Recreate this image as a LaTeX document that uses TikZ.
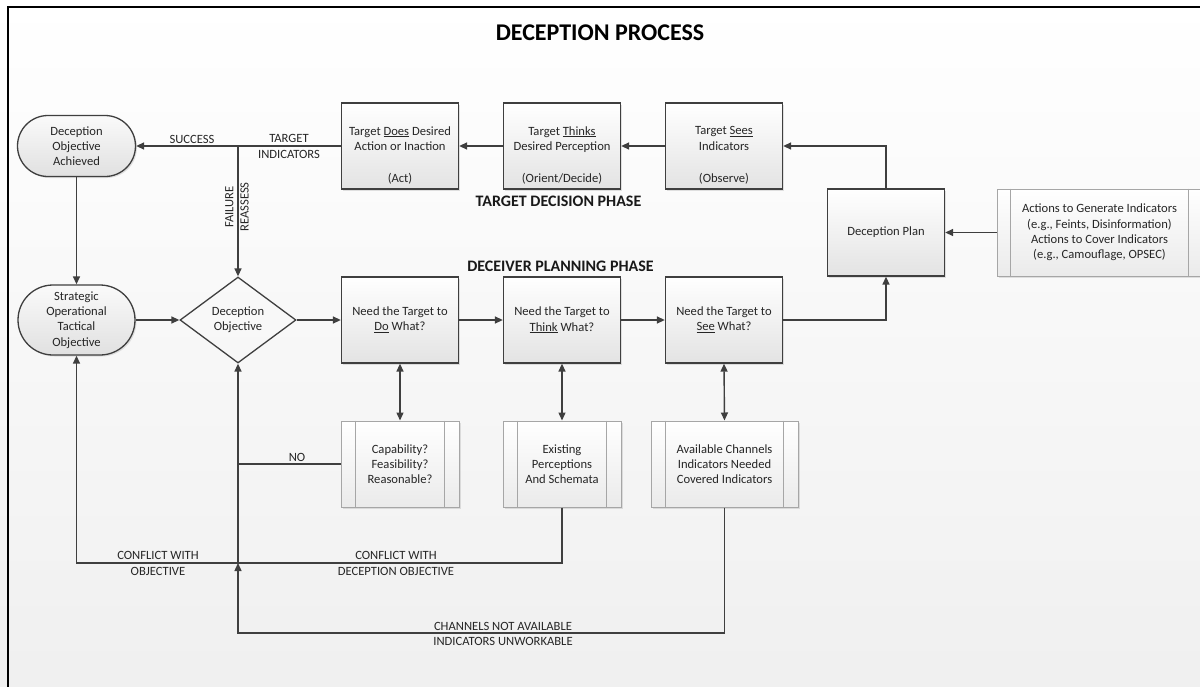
\documentclass[tikz,border=0pt]{standalone}
\usepackage{fontspec}
\setmainfont{Carlito}
\usetikzlibrary{arrows.meta,shapes.geometric,shadows}

\definecolor{ink}{HTML}{262626}
\definecolor{edge}{HTML}{3F3F3F}
\definecolor{pale}{HTML}{A6A6A6}

\begin{document}
\begin{tikzpicture}[x=1pt,y=-1pt,
  every node/.style={text=ink, font=\fontsize{12.6}{15.3}\selectfont},
  softshadow/.style={drop shadow={shadow xshift=1.5pt, shadow yshift=-1.5pt, opacity=0.22}},
  stepbox/.style={draw=edge, line width=1.3pt, top color=white, bottom color=black!11,
    minimum width=117pt, minimum height=86pt, inner sep=0pt, align=center, softshadow},
  termbox/.style={draw=edge, line width=1.3pt, top color=black!2, bottom color=black!12,
    inner sep=0pt, align=center, softshadow},
  decision/.style={diamond, aspect=1.35, draw=edge, line width=1.3pt,
    minimum width=116pt, minimum height=86pt, inner sep=0pt, align=center},
  procbox/.style={draw=pale, line width=1pt, top color=white, bottom color=black!8,
    minimum height=86pt, inner sep=0pt, align=center, softshadow},
  procline/.style={draw=pale, line width=1pt},
  conn/.style={draw=edge, line width=1.4pt},
  arr/.style={conn, -{Triangle[length=8pt,width=7pt]}},
  darr/.style={conn, {Triangle[length=8pt,width=7pt]}-{Triangle[length=8pt,width=7pt]}},
  lbl/.style={align=center, inner sep=0pt},
  phase/.style={inner sep=0pt, font=\bfseries\fontsize{16}{19}\selectfont, text=black!90}
]
% page and frame
\useasboundingbox (0,0) rectangle (1200,686);
\clip (0,0) rectangle (1200,686);
\shade[top color=white, bottom color=black!6] (0,0) rectangle (1200,686);
\draw[line width=2.5pt, black] (8,690) -- (8,7) -- (1205,7);

\node[inner sep=0pt, font=\bfseries\fontsize{24}{28}\selectfont, text=black] (title) at (600,33) {DECEPTION PROCESS};

% target decision phase
\node[stepbox] (does) at (400,146) {};
\node[lbl] (doesTxt) at ([yshift=-9.5pt]does.center) {Target \underline{Does} Desired\\Action or Inaction\\[17pt](Act)};
\node[stepbox] (thinks) at (562,146) {};
\node[lbl] (thinksTxt) at ([yshift=-9.5pt]thinks.center) {Target \underline{Thinks}\\Desired Perception\\[17pt](Orient/Decide)};
\node[stepbox] (sees) at (724,146) {};
\node[lbl] (seesTxt) at ([yshift=-9.5pt]sees.center) {Target \underline{Sees}\\Indicators\\[17pt](Observe)};
\node[phase] (tdp) at (558.5,201) {TARGET DECISION PHASE};

\node[stepbox, minimum height=87pt] (plan) at (886,232.5) {Deception Plan};
\node[procbox, minimum width=205pt, minimum height=87pt] (actions) at (1099.5,232.5) {Actions to Generate Indicators\\(e.g., Feints, Disinformation)\\Actions to Cover Indicators\\(e.g., Camouflage, OPSEC)};
\draw[procline] ([xshift=14pt]actions.north west) -- ([xshift=14pt]actions.south west);
\draw[procline] ([xshift=-14pt]actions.north east) -- ([xshift=-14pt]actions.south east);

% objectives
\node[termbox, minimum width=118pt, minimum height=61pt, rounded corners=30.5pt] (achieved) at (76.5,146) {Deception\\Objective\\Achieved};
\node[termbox, minimum width=117pt, minimum height=70pt, rounded corners=35pt] (strategic) at (76.5,320) {Strategic\\Operational\\Tactical\\Objective};
\node[decision] (decobj) at (238,320) {Deception\\Objective};

% deceiver planning phase
\node[phase] (dpp) at (560.5,266) {DECEIVER PLANNING PHASE};
\node[stepbox] (needdo) at (400,320) {Need the Target to\\\underline{Do} What?};
\node[stepbox] (needthink) at (562,320) {Need the Target to\\\underline{Think} What?};
\node[stepbox] (needsee) at (724,320) {Need the Target to\\\underline{See} What?};

\node[procbox, minimum width=118pt] (cap) at (400,464) {Capability?\\Feasibility?\\Reasonable?};
\node[procbox, minimum width=118pt] (existing) at (562,464) {Existing\\Perceptions\\And Schemata};
\node[procbox, minimum width=147pt] (available) at (724.5,464) {Available Channels\\Indicators Needed\\Covered Indicators};
\foreach \b in {cap,existing,available}{
  \draw[procline] ([xshift=15pt]\b.north west) -- ([xshift=15pt]\b.south west);
  \draw[procline] ([xshift=-15pt]\b.north east) -- ([xshift=-15pt]\b.south east);
}

% junction points of the connectors
\coordinate (jtop) at (238,146);
\coordinate (jno) at (238,464);
\coordinate (jconf) at (238,563);
\coordinate (cbend) at (562,563);
\coordinate (cleft) at (76.5,563);
\coordinate (chbend) at (724.5,633);
\coordinate (chleft) at (238,633);

% target decision flow
\draw[arr] (sees.west) -- (thinks.east);
\draw[arr] (thinks.west) -- (does.east);
\draw[arr] (does.west) -- (achieved.east);
\draw[arr] (jtop) -- (decobj.north);
\draw[arr] (achieved.south) -- (strategic.north);
\draw[arr] (plan.north) |- (sees.east);
\draw[arr] (actions.west) -- (plan.east);

% deceiver planning flow
\draw[arr] (strategic.east) -- (decobj.west);
\draw[arr] (decobj.east) -- (needdo.west);
\draw[arr] (needdo.east) -- (needthink.west);
\draw[arr] (needthink.east) -- (needsee.west);
\draw[arr] (needsee.east) -| (plan.south);
\draw[darr] (needdo.south) -- (cap.north);
\draw[darr] (needthink.south) -- (existing.north);
\draw[darr] (needsee.south) -- (available.north);

% feedback loops
\draw[conn] (cap.west) -- (jno);
\draw[arr] (existing.south) -- (cbend) -- (cleft) -- (strategic.south);
\draw[arr] (jconf) -- (decobj.south);
\draw[arr] (available.south) -- (chbend) -- (chleft) -- (jconf);

% connector labels
\node[lbl] (lsuccess) at (192,139) {SUCCESS};
\node[lbl] (lindic) at (289,146.5) {TARGET\\INDICATORS};
\node[lbl, rotate=90] (lfail) at (237,207) {FAILURE\\REASSESS};
\node[lbl] (lno) at (297,457) {NO};
\node[lbl] (lconfobj) at (158,563.5) {CONFLICT WITH\\OBJECTIVE};
\node[lbl] (lconfdec) at (396,563.5) {CONFLICT WITH\\DECEPTION OBJECTIVE};
\node[lbl] (lchan) at (503,634) {CHANNELS NOT AVAILABLE\\INDICATORS UNWORKABLE};
\end{tikzpicture}
\end{document}
